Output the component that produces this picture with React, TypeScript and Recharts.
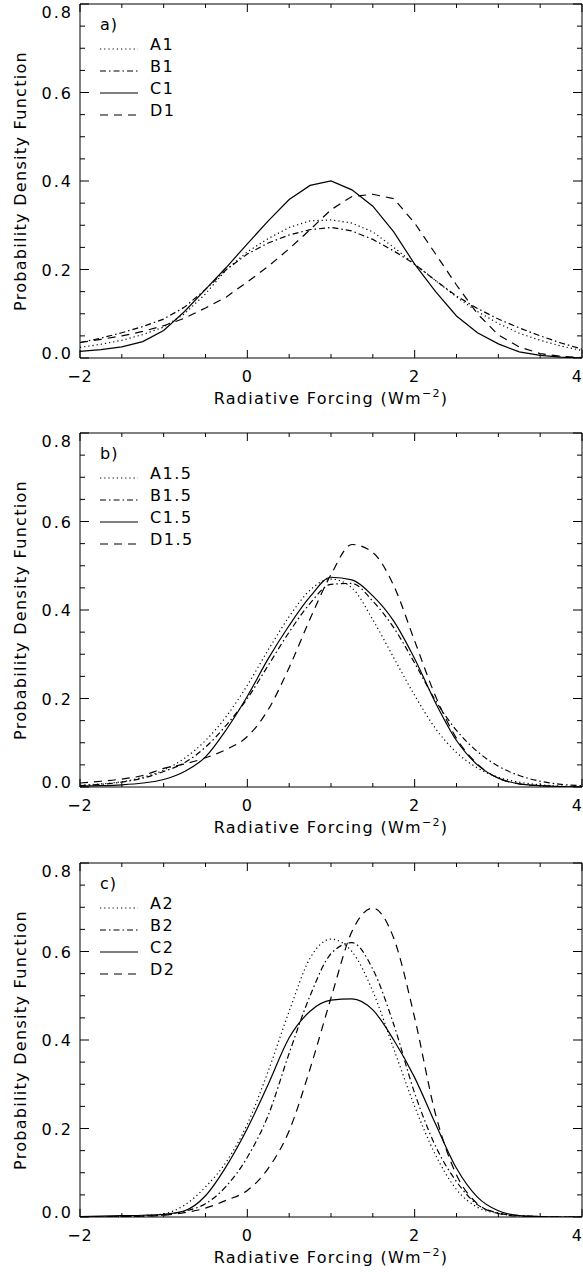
import React from 'react';
import { LineChart, Line, XAxis, YAxis, Label } from 'recharts';

// forcing grid (Wm-2) shared by every curve
const xGrid = [-2, -1.75, -1.5, -1.25, -1, -0.75, -0.5, -0.25, 0, 0.25, 0.5, 0.75, 1, 1.25, 1.5, 1.75, 2, 2.25, 2.5, 2.75, 3, 3.25, 3.5, 3.75, 4];

// panel a
const a1 = [0.024, 0.031, 0.04, 0.053, 0.07, 0.1, 0.145, 0.2, 0.24, 0.27, 0.295, 0.31, 0.312, 0.305, 0.285, 0.25, 0.212, 0.175, 0.138, 0.105, 0.078, 0.056, 0.04, 0.027, 0.017];
const b1 = [0.035, 0.045, 0.057, 0.071, 0.088, 0.115, 0.155, 0.2, 0.235, 0.26, 0.278, 0.29, 0.295, 0.287, 0.268, 0.242, 0.212, 0.175, 0.14, 0.112, 0.088, 0.068, 0.05, 0.034, 0.02];
const c1 = [0.015, 0.019, 0.025, 0.037, 0.062, 0.105, 0.155, 0.205, 0.258, 0.31, 0.358, 0.39, 0.4, 0.38, 0.343, 0.285, 0.212, 0.15, 0.095, 0.057, 0.032, 0.014, 0.006, 0.002, 0.0];
const d1 = [0.035, 0.042, 0.05, 0.06, 0.073, 0.09, 0.113, 0.138, 0.172, 0.207, 0.247, 0.29, 0.335, 0.365, 0.37, 0.36, 0.305, 0.235, 0.165, 0.1, 0.052, 0.025, 0.01, 0.004, 0.001];

// panel b
const a15 = [0.004, 0.007, 0.012, 0.022, 0.038, 0.065, 0.105, 0.16, 0.23, 0.31, 0.385, 0.445, 0.47, 0.45, 0.378, 0.292, 0.207, 0.132, 0.078, 0.043, 0.022, 0.011, 0.005, 0.002, 0.001];
const b15 = [0.003, 0.006, 0.011, 0.02, 0.035, 0.055, 0.09, 0.14, 0.2, 0.275, 0.35, 0.415, 0.458, 0.46, 0.42, 0.36, 0.28, 0.195, 0.128, 0.08, 0.047, 0.026, 0.013, 0.006, 0.003];
const c15 = [0.002, 0.003, 0.005, 0.009, 0.017, 0.035, 0.068, 0.13, 0.205, 0.29, 0.365, 0.43, 0.474, 0.468, 0.432, 0.375, 0.29, 0.19, 0.105, 0.05, 0.02, 0.007, 0.003, 0.001, 0.0];
const d15 = [0.009, 0.013, 0.018, 0.026, 0.042, 0.052, 0.066, 0.085, 0.114, 0.175, 0.27, 0.38, 0.48, 0.548, 0.53, 0.455, 0.33, 0.205, 0.11, 0.052, 0.02, 0.007, 0.003, 0.001, 0.0];

// panel c
const a2 = [0.0, 0.0, 0.001, 0.003, 0.007, 0.027, 0.068, 0.125, 0.21, 0.33, 0.465, 0.585, 0.628, 0.6, 0.51, 0.38, 0.25, 0.14, 0.062, 0.022, 0.008, 0.003, 0.001, 0.0, 0.0];
const b2 = [0.0, 0.0, 0.001, 0.002, 0.005, 0.013, 0.03, 0.07, 0.135, 0.23, 0.37, 0.5, 0.595, 0.62, 0.56, 0.435, 0.28, 0.16, 0.08, 0.028, 0.009, 0.003, 0.001, 0.0, 0.0];
const c2 = [0.001, 0.002, 0.003, 0.004, 0.006, 0.014, 0.048, 0.115, 0.2, 0.3, 0.405, 0.465, 0.49, 0.493, 0.468, 0.4, 0.315, 0.21, 0.11, 0.045, 0.014, 0.003, 0.001, 0.0, 0.0];
const d2 = [0.0, 0.0, 0.001, 0.002, 0.004, 0.01, 0.02, 0.038, 0.06, 0.11, 0.195, 0.335, 0.495, 0.645, 0.698, 0.63, 0.45, 0.232, 0.095, 0.03, 0.008, 0.002, 0.001, 0.0, 0.0];

const xTicks = [-2, -1.5, -1, -0.5, 0, 0.5, 1, 1.5, 2, 2.5, 3, 3.5, 4];
const xLabels = [-2, 0, 2, 4];
const yTicks = [0, 0.05, 0.1, 0.15, 0.2, 0.25, 0.3, 0.35, 0.4, 0.45, 0.5, 0.55, 0.6, 0.65, 0.7, 0.75, 0.8];
const yLabels = [0, 0.2, 0.4, 0.6, 0.8];

const keys = ['A', 'B', 'C', 'D'];
const dashes: (string | undefined)[] = ['1.2 3', '6 3 1.5 3', undefined, '8 6'];

const font = { fontFamily: 'DejaVu Sans', fontSize: 16, fill: '#000' };

const isLabel = (list: number[], v: number) => list.some(l => Math.abs(l - v) < 1e-6);
const fmtX = (v: number) => (v < 0 ? '\u2212' + Math.abs(v) : String(v));

const BottomTick = ({ x, y, payload }: any) => {
  const major = isLabel(xLabels, payload.value);
  const last = payload.value >= 4;
  return (
    <g>
      <line x1={x} y1={y} x2={x} y2={y - (major ? 8 : 4)} stroke="#000" />
      {major && (
        <text x={last ? x + 1 : x} y={y + 24} textAnchor={last ? 'end' : 'middle'} style={{ ...font, letterSpacing: 1 }}>
          {fmtX(payload.value)}
        </text>
      )}
    </g>
  );
};

const TopTick = ({ x, y, payload }: any) => {
  const major = isLabel(xLabels, payload.value);
  return <line x1={x} y1={y} x2={x} y2={y + (major ? 8 : 4)} stroke="#000" />;
};

const LeftTick = ({ x, y, payload }: any) => {
  const v = payload.value;
  const major = isLabel(yLabels, v);
  const shift = v > 0.79 ? 14 : v < 0.01 ? 1 : 6;
  return (
    <g>
      <line x1={x} y1={y} x2={x + (major ? 9 : 5)} y2={y} stroke="#000" />
      {major && (
        <text x={x - 7} y={y + shift} textAnchor="end" style={{ ...font, letterSpacing: 2 }}>
          {v.toFixed(1)}
        </text>
      )}
    </g>
  );
};

const RightTick = ({ x, y, payload }: any) => {
  const major = isLabel(yLabels, payload.value);
  return <line x1={x} y1={y} x2={x - (major ? 9 : 5)} y2={y} stroke="#000" />;
};

const XTitle = ({ viewBox }: any) => (
  <text x={viewBox.x + viewBox.width / 2} y={viewBox.y + 46} textAnchor="middle" style={{ ...font, letterSpacing: 1.3 }}>
    Radiative Forcing (Wm
    <tspan dy={-7} style={{ fontSize: 11 }}>{'\u22122'}</tspan>
    <tspan dy={7}>)</tspan>
  </text>
);

const YTitle = ({ viewBox }: any) => {
  const cx = 20;
  const cy = viewBox.y + viewBox.height / 2;
  return (
    <text x={cx} y={cy} transform={`rotate(-90 ${cx} ${cy})`} textAnchor="middle" dominantBaseline="central" style={{ ...font, letterSpacing: 1.3 }}>
      Probability Density Function
    </text>
  );
};

type PanelProps = { top: number; tag: string; names: string[]; series: number[][]; curve: 'linear' | 'monotone' };

const Panel = ({ top, tag, names, series, curve }: PanelProps) => {
  const rows = xGrid.map((x, i) => {
    const r: any = { x };
    keys.forEach((k, j) => (r[k] = series[j][i]));
    return r;
  });
  const plotTop = 4;
  return (
    <div style={{ position: 'absolute', left: 0, top, width: 583, height: 413 }}>
      <LineChart width={583} height={413} data={rows} margin={{ top: plotTop, right: 1, bottom: 0, left: 0 }}>
        <XAxis xAxisId="x" type="number" dataKey="x" domain={[-2, 4]} allowDataOverflow ticks={xTicks} interval={0}
          tickSize={0} tickMargin={0} tickLine={false} tick={(p: any) => <BottomTick {...p} />} height={55}
          axisLine={{ stroke: '#000' }}>
          <Label content={XTitle} />
        </XAxis>
        <XAxis xAxisId="xt" orientation="top" mirror type="number" dataKey="x" domain={[-2, 4]} allowDataOverflow ticks={xTicks} interval={0}
          tickSize={0} tickMargin={0} tickLine={false} tick={(p: any) => <TopTick {...p} />} axisLine={{ stroke: '#000' }} />
        <YAxis yAxisId="y" type="number" domain={[0, 0.8]} allowDataOverflow ticks={yTicks} interval={0} width={80}
          tickSize={0} tickMargin={0} tickLine={false} tick={(p: any) => <LeftTick {...p} />} axisLine={{ stroke: '#000' }}>
          <Label content={YTitle} />
        </YAxis>
        <YAxis yAxisId="yr" orientation="right" mirror type="number" domain={[0, 0.8]} allowDataOverflow ticks={yTicks} interval={0}
          tickSize={0} tickMargin={0} tickLine={false} tick={(p: any) => <RightTick {...p} />} axisLine={{ stroke: '#000' }} />
        {keys.map((k, j) => (
          <Line key={k} xAxisId="x" yAxisId="y" type={curve} dataKey={k} name={names[j]} stroke="#000" strokeWidth={1.2}
            strokeDasharray={dashes[j]} dot={false} isAnimationActive={false} />
        ))}
      </LineChart>
      <svg width={583} height={413} style={{ position: 'absolute', left: 0, top: 0, pointerEvents: 'none' }}>
        <text x={100} y={plotTop + 26} style={{ ...font, letterSpacing: 1 }}>{tag}</text>
        {names.map((n, j) => {
          const ly = plotTop + 45 + 22 * j;
          return (
            <g key={n}>
              <line x1={100} x2={138} y1={ly} y2={ly} stroke="#000" strokeWidth={1.2} strokeDasharray={dashes[j]} />
              <text x={150} y={ly + 1} style={{ ...font, letterSpacing: 1.5 }}>{n}</text>
            </g>
          );
        })}
      </svg>
    </div>
  );
};

export default function App() {
  return (
    <div style={{ position: 'absolute', left: 0, top: 0, width: 583, height: 1272, background: '#fff', overflow: 'hidden' }}>
      <Panel top={0} tag="a)" names={['A1', 'B1', 'C1', 'D1']} series={[a1, b1, c1, d1]} curve="linear" />
      <Panel top={429} tag="b)" names={['A1.5', 'B1.5', 'C1.5', 'D1.5']} series={[a15, b15, c15, d15]} curve="monotone" />
      <Panel top={859} tag="c)" names={['A2', 'B2', 'C2', 'D2']} series={[a2, b2, c2, d2]} curve="monotone" />
    </div>
  );
}
